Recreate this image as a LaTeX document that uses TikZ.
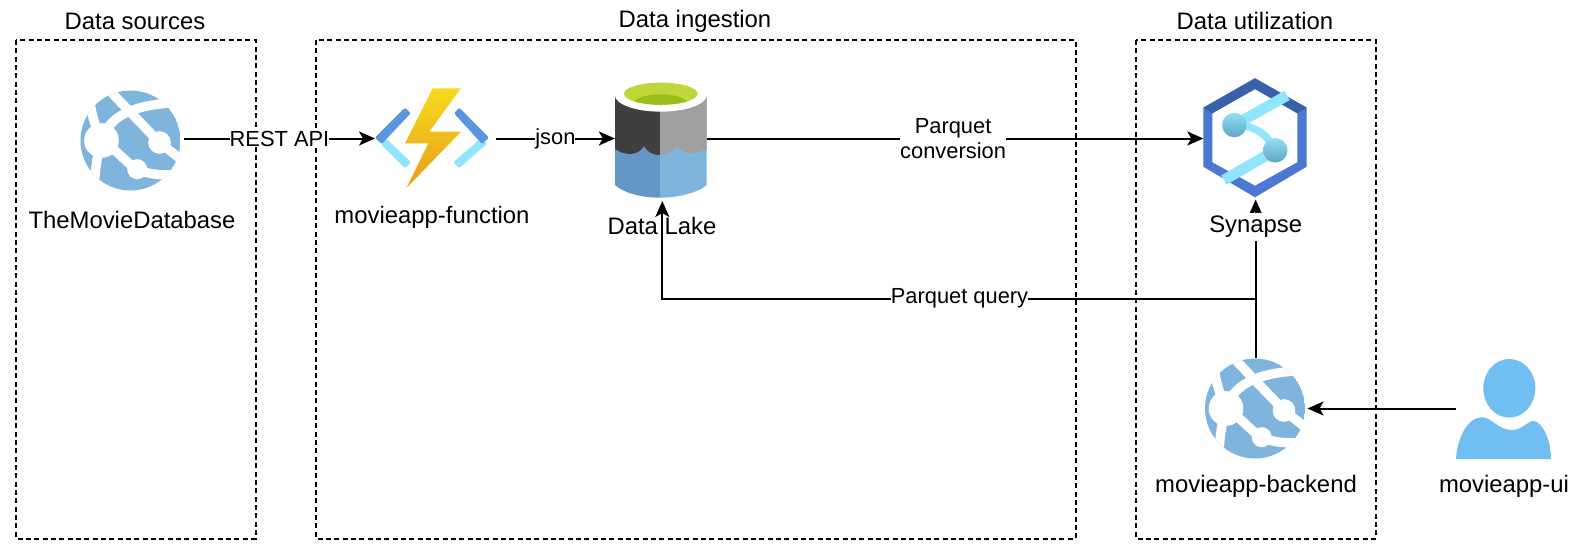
\documentclass[tikz,border=0pt]{standalone}
\usepackage{fontspec}
\setmainfont{Liberation Sans}
\usetikzlibrary{arrows.meta}
\definecolor{webblue}{HTML}{7FB4DC}
\definecolor{arrowblue}{HTML}{5A95E0}
\definecolor{lightcyan}{HTML}{91E5FF}
\definecolor{boltA}{HTML}{F7DA1E}
\definecolor{boltB}{HTML}{E79E1C}
\definecolor{lakeDark}{HTML}{3F3F3F}
\definecolor{lakeGray}{HTML}{9F9FA0}
\definecolor{lakeBlue}{HTML}{6497C8}
\definecolor{lakeLight}{HTML}{7FB4DC}
\definecolor{lakeGreen}{HTML}{C0D63A}
\definecolor{lakeInner}{HTML}{98BC1A}
\definecolor{hexBlue}{HTML}{4A78D2}
\definecolor{hexDark}{HTML}{3A60AC}
\definecolor{ballA}{HTML}{92DFF3}
\definecolor{ballB}{HTML}{5FA6C6}
\definecolor{personblue}{HTML}{70BEF2}
\tikzset{
  x=0.75pt,y=-0.75pt,
  txt/.style={font=\fontsize{17.9}{20}\selectfont,text=black,inner sep=0pt,align=center},
  groupbox/.style={draw=black,line width=1.5pt,dash pattern=on 3.75pt off 2.5pt},
  conn/.style={draw=black,line width=1.5pt,-{Stealth[length=12pt,width=10.5pt,inset=3pt]}},
  edgelabel/.style={font=\fontsize{16.4}{19}\selectfont,text=black,align=center,fill=white,inner xsep=0pt,inner ysep=0.5pt},
  anchorbox/.style={inner sep=0pt,outer sep=0pt,minimum width=#1*0.75pt,minimum height=60pt},
  webstrip/.style={draw=white,line width=7pt,line cap=butt},
}
\newcommand{\webicon}[2]{%
  \begin{scope}[shift={(#1,#2)}]
    \begin{scope}
      \clip (0,0) circle[radius=37.5pt];
      \fill[webblue] (0,0) circle[radius=37.5pt];
      \draw[webstrip] (-30,6) .. controls (-25,-26) and (5,-36) .. (48,-38);
      \draw[webstrip] (-21,-50) -- (29,2) -- (52,20);
      \draw[webstrip] (-40,-35) .. controls (-38,-22) and (-34,-12) .. (-29,0);
      \draw[webstrip] (-29,0) .. controls (-33,14) and (-35,26) .. (-36,44);
      \draw[webstrip] (-29,0) .. controls (-15,8) and (-5,22) .. (6.7,28.7) .. controls (18,34) and (30,35) .. (48,34);
      \fill[white] (-29,0) circle[radius=13pt];
      \fill[white] (29,2) circle[radius=8.5pt];
      \fill[white] (6.7,28.7) circle[radius=7.5pt];
    \end{scope}
  \end{scope}%
}
\begin{document}
\begin{tikzpicture}
\useasboundingbox (0,0) rectangle (1582,557);
\fill[white] (0,0) rectangle (1582,557);

% groups
\draw[groupbox] (16,40) rectangle (255.5,538.5);
\draw[groupbox] (316,40) rectangle (1075.6,538.5);
\draw[groupbox] (1136,40) rectangle (1376,538.5);
\node[txt] (t1) at (135,21) {Data sources};
\node[txt] (t2) at (695,21) {Data ingestion};
\node[txt] (t3) at (1255,21) {Data utilization};

% web icons
\webicon{130.5}{140.5}
\webicon{1255}{408.5}

% function icon
\fill[lightcyan,rounded corners=1pt] (386.7,139) -- (411,162.3) -- (405,168.3) -- (380.7,144) -- cycle;
\fill[lightcyan,rounded corners=1pt] (480,139) -- (453.3,162.3) -- (459,168.3) -- (487.3,143.3) -- cycle;
\fill[arrowblue,rounded corners=1pt] (405,107.7) -- (410.7,113.3) -- (381.7,144) -- (375,137.7) -- cycle;
\fill[arrowblue,rounded corners=1pt] (459.3,107.7) -- (454,113.3) -- (482,144) -- (489,137.7) -- cycle;
\shade[top color=boltA,bottom color=boltB] (432.7,88.3) -- (461,88.3) -- (429.3,131.7) -- (461,131.7) -- (406.7,187.7) -- (428.3,143.3) -- (405,143.3) -- cycle;

% data lake icon
\fill[lakeBlue] (615,95) -- (615,185) .. controls (622,192) and (640,197.7) .. (660,197.7) -- (660,95) -- cycle;
\fill[lakeLight] (706.7,95) -- (706.7,185) .. controls (699,192) and (680,197.7) .. (660,197.7) -- (660,95) -- cycle;
\fill[lakeDark] (615,95) -- (615,149) .. controls (620,152) and (625,154) .. (630,154) .. controls (636,154) and (641,151) .. (644,146) .. controls (647,151) and (651,155) .. (660,155) -- (660,95) -- cycle;
\fill[lakeGray] (706.7,95) -- (706.7,149) .. controls (700,152) and (695,153) .. (690,153) .. controls (685,153) and (681,150) .. (677.3,146.7) .. controls (673,151) and (667,155) .. (660,155) -- (660,95) -- cycle;
\fill[white] (660.8,95) ellipse[x radius=34.5pt,y radius=12.5pt];
\begin{scope}
  \clip (660.8,93.7) ellipse[x radius=27.6pt,y radius=8.3pt];
  \fill[lakeGreen] (660.8,93.7) ellipse[x radius=27.6pt,y radius=8.3pt];
  \fill[lakeInner] (660.8,105) ellipse[x radius=21pt,y radius=8pt];
\end{scope}

% synapse icon
\fill[hexBlue,even odd rule] (1255,78.3) -- (1306.7,107.7) -- (1306.7,166.7) -- (1255,197.3) -- (1203.3,166.7) -- (1203.3,107.7) -- cycle
  (1255,89) -- (1297.3,113.3) -- (1297.3,162.3) -- (1255,185.7) -- (1212.3,162.3) -- (1212.3,113.3) -- cycle;
\fill[hexDark] (1255,78.3) -- (1306.7,107.7) -- (1297.3,113.3) -- (1255,89) -- (1212.3,113.3) -- (1203.3,107.7) -- cycle;
\draw[lightcyan,line width=8pt] (1287,95.5) -- (1234.3,125);
\draw[lightcyan,line width=8pt] (1275.3,150.3) -- (1224,180);
\draw[lightcyan,line width=5.5pt] (1234.3,125) .. controls (1255,125) and (1268,135) .. (1275.3,150.3);
\shade[top color=ballA,bottom color=ballB] (1234.3,125) circle[radius=9.2pt];
\shade[top color=ballA,bottom color=ballB] (1275.3,150.3) circle[radius=9.2pt];

% person icon
\fill[personblue] (1509.3,388.3) ellipse[x radius=19.5pt,y radius=22pt];
\fill[personblue] (1456,459) .. controls (1457,438) and (1468,417) .. (1482,417.3) .. controls (1492,417.5) and (1498,430) .. (1512,430) .. controls (1522,430) and (1528,421) .. (1533.3,421) .. controls (1542,421) and (1551,440) .. (1551,459) -- cycle;

% invisible anchors for connectors
\node[anchorbox=107] (tmdb) at (130.5,138.5) {};
\node[anchorbox=121] (func) at (435.5,138.5) {};
\node[anchorbox=92] (lake) at (660.85,138.5) {};
\node[anchorbox=103.4] (hex) at (1255,138.5) {};
\node[anchorbox=105] (backend) at (1255,408.5) {};
\node[anchorbox=96] (user) at (1504,408.5) {};
\coordinate (bend) at (1255.7,298.7);
\coordinate (lakein) at (662.3,201);
\coordinate (synin) at (1255.7,199.5);
\coordinate (corner) at (662.3,298.7);
\coordinate (backout) at (1255.7,358);

% node labels
\node[txt] (tmdbl) at (132,220) {TheMovieDatabase};
\node[txt] (funcl) at (432,217) {movieapp-function};
\node[txt] (backl) at (1256,486) {movieapp-backend};
\node[txt] (userl) at (1504,486) {movieapp-ui};

% connectors
\draw[conn] (tmdb.east) -- (func.west) node[edgelabel,midway] (l1) {REST API};
\draw[conn] (func.east) -- (lake.west) node[edgelabel,midway] (l2) {json};
\draw[conn] (lake.east) -- (hex.west) node[edgelabel,pos=0.496] (l3) {Parquet\\conversion};
\draw[conn] (backout) -- (bend) -- (corner) -- (lakein);
\node[edgelabel] (l4) at (959.5,298.7) {Parquet query};
\draw[conn] (bend) -- (synin);
\draw[conn] (user.west) -- (backend.east);

\node[txt] (lakel) at (662,226) {Data Lake};
\node[txt,fill=white,minimum height=21pt] (synl) at (1255.7,227) {Synapse};
\end{tikzpicture}
\end{document}
